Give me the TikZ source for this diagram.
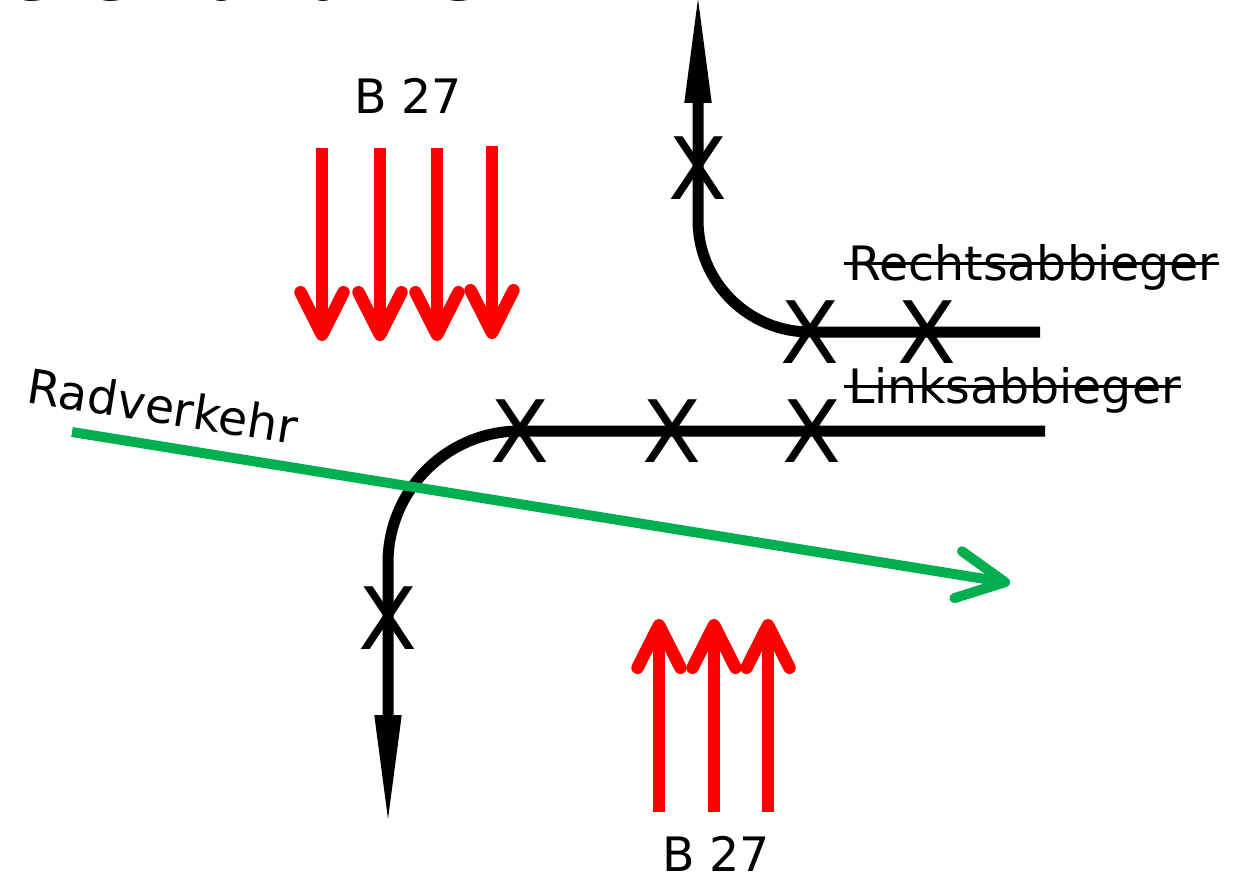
\documentclass[tikz,border=0pt]{standalone}
\usepackage{fontspec}
\setmainfont{DejaVu Sans}
\usetikzlibrary{arrows.meta}
\definecolor{radgreen}{HTML}{00B050}
\begin{document}
\begin{tikzpicture}[x = 0.02cm, y = -0.02cm,
    lane/.style = {line width = 0.22cm, -{Triangle[length = 2.3cm, width = 0.48cm]}},
    flow/.style = {red, line width = 0.25cm, -{Straight Barb[round, length = 0.85cm, width = 0.86cm]}},
    bike/.style = {radgreen, line width = 0.2cm, -{Straight Barb[round, length = 0.95cm, width = 0.95cm]}},
    cross/.style = {inner sep = 0pt, font = \fontsize{49}{49}\selectfont},
    txt/.style = {inner sep = 0pt, anchor = base west, font = \fontsize{27}{30}\selectfont},
    strike/.style = {line width = 1.7pt}]
      \useasboundingbox (0, 0) rectangle (1237, 875);
      \node (title) [txt, font = \bfseries\fontsize{38.6}{40}\selectfont] at (7, 1) {ere Variante};
      \draw [flow] (322, 148) -- (322, 341);
      \draw [flow] (380, 148) -- (380, 341);
      \draw [flow] (437, 148) -- (437, 341);
      \draw [flow] (492, 146) -- (492, 339);
      \draw [flow] (659, 812) -- (659, 619);
      \draw [flow] (714, 812) -- (714, 619);
      \draw [flow] (768, 812) -- (768, 619);
      \node (b27n) [txt, anchor = base] at (408, 113) {B 27};
      \node (b27s) [txt, anchor = base] at (716, 871) {B 27};
      \coordinate (rstart) at (1040, 332);
      \coordinate (rcorner) at (698, 332);
      \coordinate (rend) at (698, -12);
      \coordinate (lstart) at (1045, 431);
      \coordinate (lcorner) at (388, 431);
      \coordinate (lend) at (388, 830);
      \draw [lane, rounded corners = 2.24cm] (rstart) -- (rcorner) -- (rend);
      \draw [lane, rounded corners = 2.64cm] (lstart) -- (lcorner) -- (lend);
      \node (xr1) [cross] at (927, 332) {X};
      \node (xr2) [cross] at (810, 332) {X};
      \node (xr3) [cross] at (698, 168) {X};
      \node (xl1) [cross] at (812, 431) {X};
      \node (xl2) [cross] at (672, 431) {X};
      \node (xl3) [cross] at (520, 431) {X};
      \node (xl4) [cross] at (388, 618) {X};
      \node (rechts) [txt] at (848, 280) {Rechtsabbieger};
      \node (links) [txt] at (848, 403) {Linksabbieger};
      \draw [strike] ([xshift = -2pt, yshift = 9.5pt] rechts.base west) -- ([yshift = 9.5pt] rechts.base east);
      \draw [strike] ([xshift = -2pt, yshift = 9.5pt] links.base west) -- ([yshift = 9.5pt] links.base east);
      \coordinate (bstart) at (72, 432);
      \coordinate (bend) at (1010, 583);
      \draw [bike] (bstart) -- (bend);
      \node (rad) [txt, rotate = -9] at (25, 402) {Radverkehr};
    \end{tikzpicture}
\end{document}
